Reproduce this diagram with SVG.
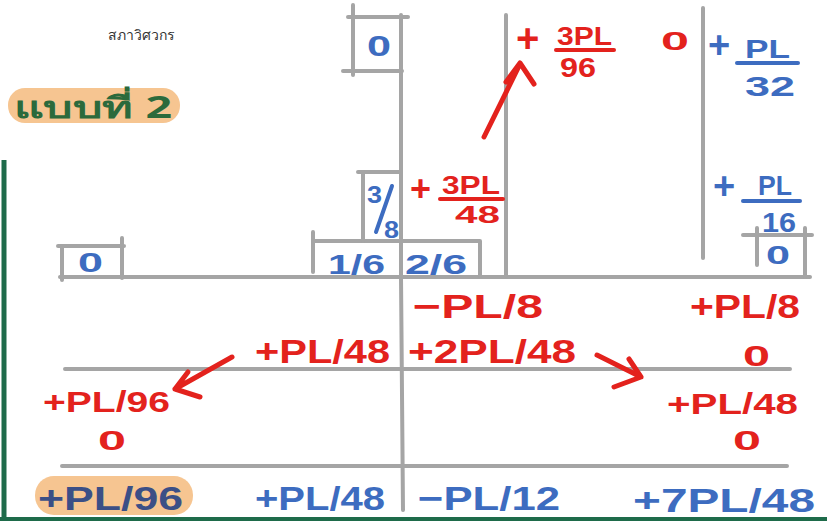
<svg xmlns="http://www.w3.org/2000/svg" width="827" height="528" viewBox="0 0 827 528">
<defs>
<style>
.g{stroke:#a5a5a5;stroke-width:4;fill:none;stroke-linecap:round}
.r{fill:#e3221d}
.b{fill:#3d6cc0}
.t{font-family:"Liberation Sans","Noto Sans",sans-serif;font-weight:bold}
.ra{stroke:#e3221d;stroke-width:5;fill:none;stroke-linecap:round;stroke-linejoin:round}
.rb{stroke:#e3221d;stroke-width:4;stroke-linecap:round}
.bb{stroke:#3d6cc0;stroke-width:4;stroke-linecap:round}
</style>
</defs>
<rect width="827" height="528" fill="#ffffff"/>
<g id="frame">
<path d="M4 160 V520" stroke="#1e6b4a" stroke-width="5" fill="none"/>
<path d="M0 519 H827" stroke="#1e6b4a" stroke-width="4" fill="none"/>
</g>
<g id="grid">
<path class="g" d="M60 277 H810"/>
<path class="g" d="M62 246 V280 M58 246 H124 M122 238 V278"/>
<path class="g" d="M313 232 V272 M313 241 H480 M480 241 V276"/>
<path class="g" d="M363 172 V241 M358 172 H400"/>
<path class="g" d="M353 5 V75 M348 17 H408 M343 71 H402"/>
<path class="g" d="M401 15 V277 L403 510"/>
<path class="g" d="M506 15 V276"/>
<path class="g" d="M703 8 V258"/>
<path class="g" d="M757 228 V265 M743 235 H812 M805 228 V277"/>
<path class="g" d="M65 369 H790 M62 466 H787"/>
</g>
<g id="title">
<text x="108" y="40" font-family="'Noto Sans','DejaVu Sans',sans-serif" font-size="14" fill="#333" textLength="67" lengthAdjust="spacingAndGlyphs">สภาวิศวกร</text>
<rect x="8" y="88" width="172" height="35" rx="17" fill="#f6c591"/>
<text x="14" y="118" font-family="'Noto Sans','DejaVu Sans',sans-serif" font-weight="bold" font-size="30" fill="#2b6a3c" textLength="158" lengthAdjust="spacingAndGlyphs">แบบที่ 2</text>
</g>
<g id="factors" class="t">
<text class="b" x="367" y="56" font-size="30" textLength="24" lengthAdjust="spacingAndGlyphs">0</text>
<text class="b" x="78" y="272" font-size="28" textLength="25" lengthAdjust="spacingAndGlyphs">0</text>
<text class="b" x="766" y="264" font-size="26" textLength="24" lengthAdjust="spacingAndGlyphs">0</text>
<text class="b" x="328" y="274" font-size="28" textLength="57" lengthAdjust="spacingAndGlyphs">1/6</text>
<text class="b" x="405" y="274" font-size="28" textLength="62" lengthAdjust="spacingAndGlyphs">2/6</text>
<text class="b" x="367" y="203" font-size="24" textLength="15" lengthAdjust="spacingAndGlyphs">3</text>
<path class="bb" d="M376 232 L392 186"/>
<text class="b" x="384" y="238" font-size="24" textLength="15" lengthAdjust="spacingAndGlyphs">8</text>
</g>
<g id="fem-top" class="t">
<text class="r" x="516" y="52" font-size="40">+</text>
<text class="r" x="557" y="45" font-size="26" textLength="55" lengthAdjust="spacingAndGlyphs">3PL</text>
<path class="rb" d="M556 50 H614"/>
<text class="r" x="560" y="77" font-size="28" textLength="36" lengthAdjust="spacingAndGlyphs">96</text>
<text class="r" x="661" y="50" font-size="26" textLength="28" lengthAdjust="spacingAndGlyphs">0</text>
<text class="b" x="708" y="58" font-size="38">+</text>
<text class="b" x="745" y="58" font-size="26" textLength="45" lengthAdjust="spacingAndGlyphs">PL</text>
<path class="bb" d="M737 63 H798"/>
<text class="b" x="745" y="96" font-size="28" textLength="50" lengthAdjust="spacingAndGlyphs">32</text>
<text class="r" x="410" y="201" font-size="36">+</text>
<text class="r" x="442" y="194" font-size="26" textLength="58" lengthAdjust="spacingAndGlyphs">3PL</text>
<path class="rb" d="M440 199 H503"/>
<text class="r" x="455" y="223" font-size="24" textLength="45" lengthAdjust="spacingAndGlyphs">48</text>
<text class="b" x="713" y="199" font-size="38">+</text>
<text class="b" x="758" y="195" font-size="28" textLength="34" lengthAdjust="spacingAndGlyphs">PL</text>
<path class="bb" d="M743 201 H800"/>
<text class="b" x="762" y="232" font-size="28" textLength="34" lengthAdjust="spacingAndGlyphs">16</text>
</g>
<g id="distribution" class="t">
<text class="r" x="413" y="318" font-size="34" textLength="130" lengthAdjust="spacingAndGlyphs">−PL/8</text>
<text class="r" x="690" y="318" font-size="34" textLength="110" lengthAdjust="spacingAndGlyphs">+PL/8</text>
<text class="r" x="255" y="363" font-size="34" textLength="135" lengthAdjust="spacingAndGlyphs">+PL/48</text>
<text class="r" x="408" y="363" font-size="34" textLength="168" lengthAdjust="spacingAndGlyphs">+2PL/48</text>
<text class="r" x="743" y="366" font-size="30" textLength="27" lengthAdjust="spacingAndGlyphs">0</text>
<text class="r" x="43" y="412" font-size="30" textLength="127" lengthAdjust="spacingAndGlyphs">+PL/96</text>
<text class="r" x="98" y="450" font-size="28" textLength="28" lengthAdjust="spacingAndGlyphs">0</text>
<text class="r" x="667" y="414" font-size="30" textLength="131" lengthAdjust="spacingAndGlyphs">+PL/48</text>
<text class="r" x="733" y="450" font-size="28" textLength="28" lengthAdjust="spacingAndGlyphs">0</text>
</g>
<g id="totals" class="t">
<rect x="35" y="476" width="158" height="39" rx="19" fill="#f6c591"/>
<text x="38" y="510" font-size="34" fill="#3b4f86" textLength="145" lengthAdjust="spacingAndGlyphs">+PL/96</text>
<text class="b" x="255" y="510" font-size="34" textLength="130" lengthAdjust="spacingAndGlyphs">+PL/48</text>
<text class="b" x="418" y="510" font-size="34" textLength="142" lengthAdjust="spacingAndGlyphs">−PL/12</text>
<text class="b" x="633" y="512" font-size="34" textLength="182" lengthAdjust="spacingAndGlyphs">+7PL/48</text>
</g>
<g id="connectors">
<path class="ra" d="M484 137 L520 64 M506 82 L520 63 L534 84"/>
<path class="ra" d="M597 355 L641 377 M614 387 L641 377 L629 359"/>
<path class="ra" d="M232 357 L175 389 M200 397 L175 389 L188 372"/>
</g>
</svg>
